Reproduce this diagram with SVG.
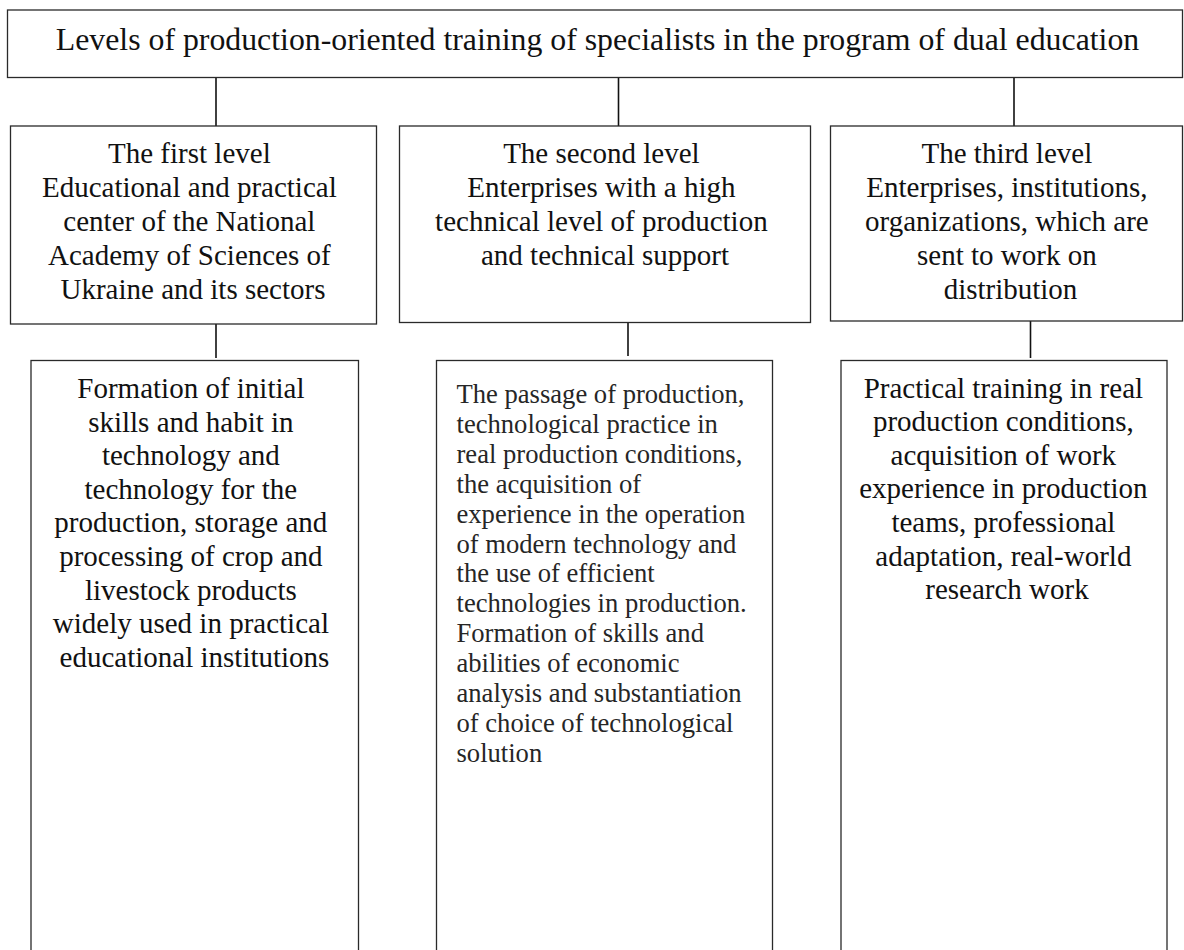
<svg xmlns="http://www.w3.org/2000/svg" width="1184" height="950" viewBox="0 0 1184 950">
<style>
  .box { fill: #ffffff; stroke: #2a2a2a; stroke-width: 1.3; }
  .conn { stroke: #111111; stroke-width: 1.6; fill: none; }
  .t { font-family: "Liberation Serif", "Times New Roman", serif; fill: #111111; }
  .c { text-anchor: middle; font-size: 29px; }
  .title { text-anchor: middle; font-size: 31.8px; }
  .m { font-size: 26.6px; fill: #262626; }
</style>
<rect x="0" y="0" width="1184" height="950" fill="#ffffff"/>

<g id="connectors">
  <line class="conn" x1="216" y1="77" x2="216" y2="126"/>
  <line class="conn" x1="618.5" y1="77" x2="618.5" y2="126"/>
  <line class="conn" x1="1014" y1="74" x2="1014" y2="126"/>
  <line class="conn" x1="216" y1="322" x2="216" y2="358"/>
  <line class="conn" x1="628" y1="322" x2="628" y2="356"/>
  <line class="conn" x1="1030.5" y1="321" x2="1030.5" y2="358"/>
</g>

<g id="top">
  <rect class="box" x="7.5" y="10" width="1175" height="67.5"/>
  <text class="t title" x="597.5" y="50">Levels of production-oriented training of specialists in the program of dual education</text>
</g>

<g id="level1">
  <rect class="box" x="10.5" y="126" width="366" height="198"/>
  <text class="t c">
    <tspan x="193" y="162.5">The first level</tspan>
    <tspan x="193" y="196.7">Educational and practical</tspan>
    <tspan x="193" y="230.9">center of the National</tspan>
    <tspan x="193" y="265.1">Academy of Sciences of</tspan>
    <tspan x="193" y="299.3">Ukraine and its sectors</tspan>
  </text>
</g>

<g id="level2">
  <rect class="box" x="399.5" y="126" width="411" height="196.5"/>
  <text class="t c">
    <tspan x="605" y="162.5">The second level</tspan>
    <tspan x="605" y="196.7">Enterprises with a high</tspan>
    <tspan x="605" y="230.9">technical level of production</tspan>
    <tspan x="605" y="265.1">and technical support</tspan>
  </text>
</g>

<g id="level3">
  <rect class="box" x="830.5" y="126" width="352" height="195"/>
  <text class="t c">
    <tspan x="1010.5" y="162.5">The third level</tspan>
    <tspan x="1010.5" y="196.7">Enterprises, institutions,</tspan>
    <tspan x="1010.5" y="230.9">organizations, which are</tspan>
    <tspan x="1010.5" y="265.1">sent to work on</tspan>
    <tspan x="1010.5" y="299.3">distribution</tspan>
  </text>
</g>

<g id="detail1">
  <rect class="box" x="31" y="360.5" width="327.5" height="610"/>
  <text class="t c">
    <tspan x="194.5" y="398">Formation of initial</tspan>
    <tspan x="194.5" y="431.6">skills and habit in</tspan>
    <tspan x="194.5" y="465.2">technology and</tspan>
    <tspan x="194.5" y="498.8">technology for the</tspan>
    <tspan x="194.5" y="532.4">production, storage and</tspan>
    <tspan x="194.5" y="566">processing of crop and</tspan>
    <tspan x="194.5" y="599.6">livestock products</tspan>
    <tspan x="194.5" y="633.2">widely used in practical</tspan>
    <tspan x="194.5" y="666.8">educational institutions</tspan>
  </text>
</g>

<g id="detail2">
  <rect class="box" x="436.5" y="360.5" width="336" height="610"/>
  <text class="t m">
    <tspan x="456.5" y="403">The passage of production,</tspan>
    <tspan x="456.5" y="432.9">technological practice in</tspan>
    <tspan x="456.5" y="462.8">real production conditions,</tspan>
    <tspan x="456.5" y="492.7">the acquisition of</tspan>
    <tspan x="456.5" y="522.6">experience in the operation</tspan>
    <tspan x="456.5" y="552.5">of modern technology and</tspan>
    <tspan x="456.5" y="582.4">the use of efficient</tspan>
    <tspan x="456.5" y="612.3">technologies in production.</tspan>
    <tspan x="456.5" y="642.2">Formation of skills and</tspan>
    <tspan x="456.5" y="672.1">abilities of economic</tspan>
    <tspan x="456.5" y="702">analysis and substantiation</tspan>
    <tspan x="456.5" y="731.9">of choice of technological</tspan>
    <tspan x="456.5" y="761.8">solution</tspan>
  </text>
</g>

<g id="detail3">
  <rect class="box" x="841" y="360.5" width="326" height="610"/>
  <text class="t c">
    <tspan x="1007" y="397.5">Practical training in real</tspan>
    <tspan x="1007" y="431.1">production conditions,</tspan>
    <tspan x="1007" y="464.7">acquisition of work</tspan>
    <tspan x="1007" y="498.3">experience in production</tspan>
    <tspan x="1007" y="531.9">teams, professional</tspan>
    <tspan x="1007" y="565.5">adaptation, real-world</tspan>
    <tspan x="1007" y="599.1">research work</tspan>
  </text>
</g>
</svg>
